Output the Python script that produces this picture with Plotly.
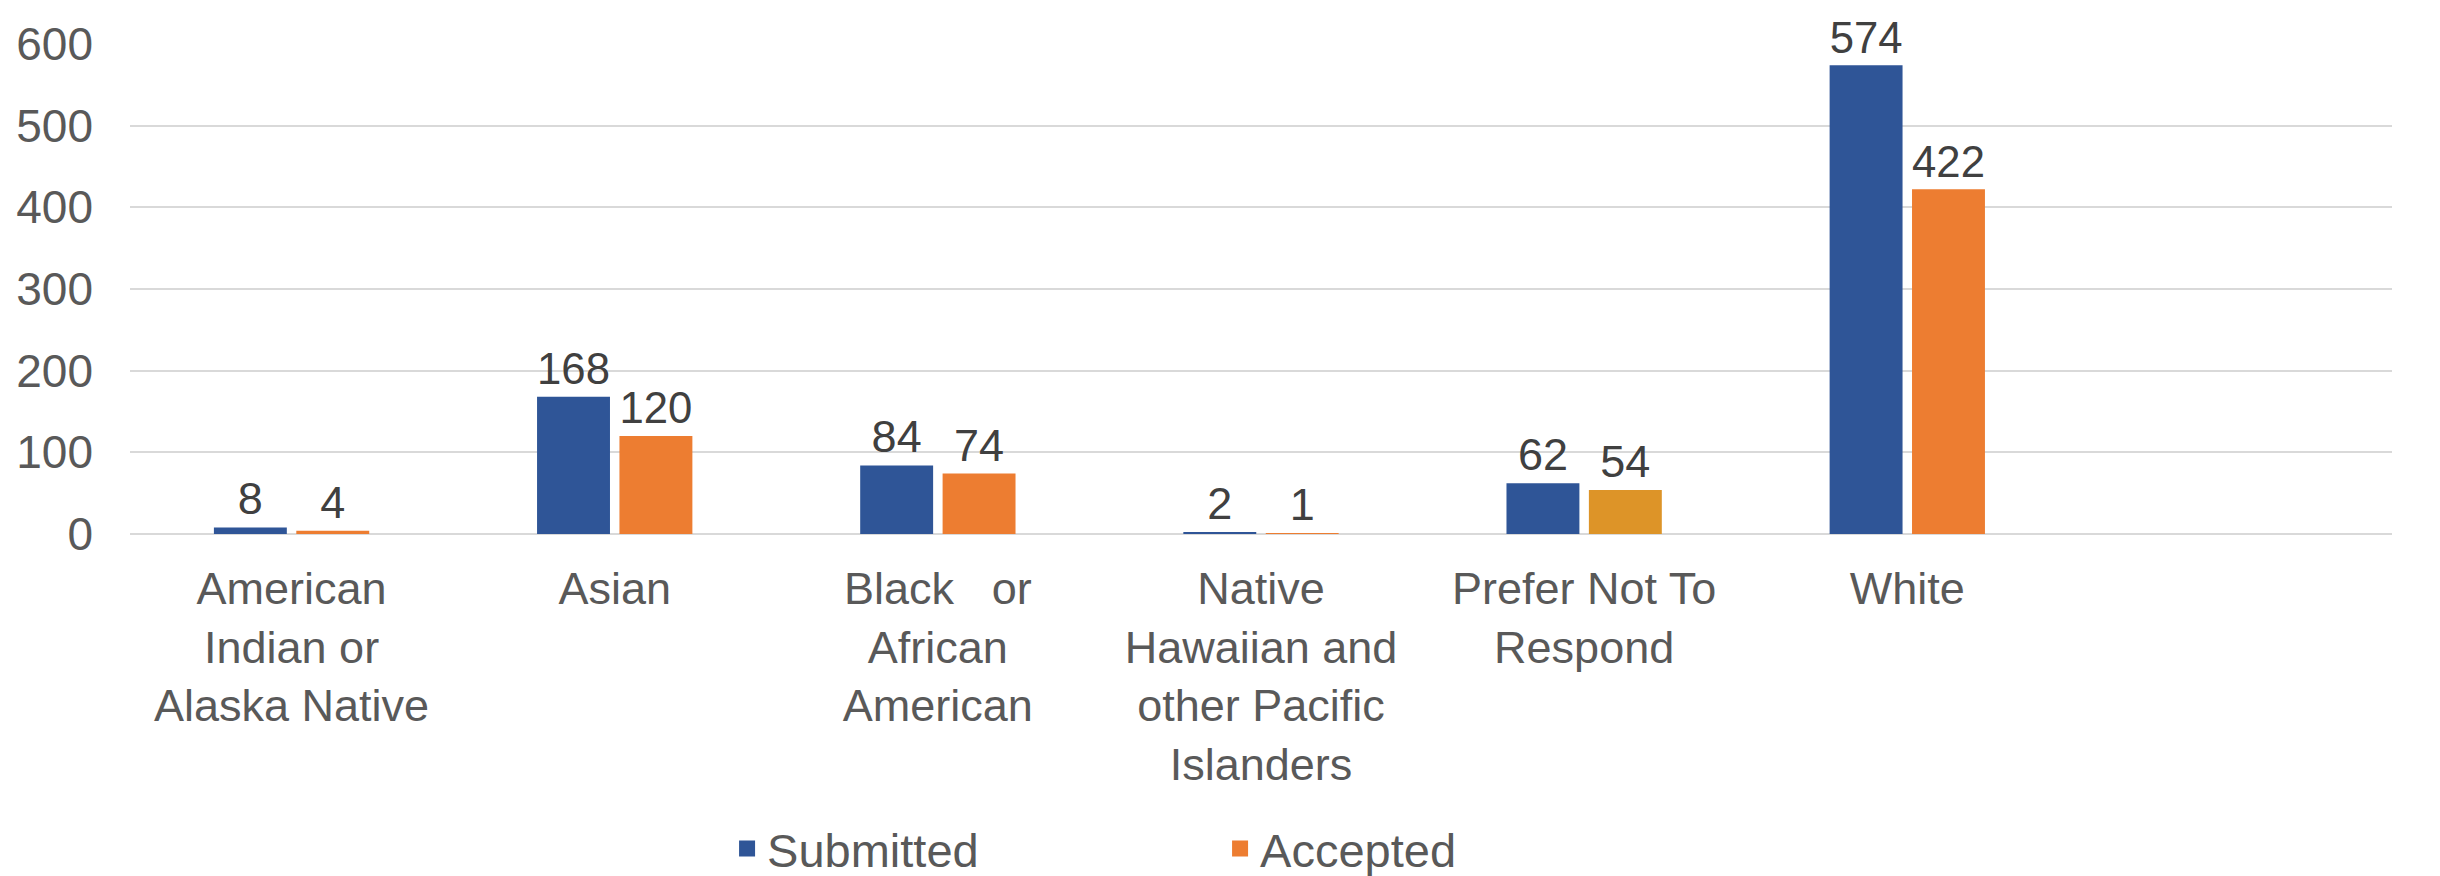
import plotly.graph_objects as go

categories = [
    "American<br>Indian or<br>Alaska Native",
    "Asian",
    "Black   or<br>African<br>American",
    "Native<br>Hawaiian and<br>other Pacific<br>Islanders",
    "Prefer Not To<br>Respond",
    "White",
]
submitted = [8, 168, 84, 2, 62, 574]
accepted = [4, 120, 74, 1, 54, 422]
y_ticks = [0, 100, 200, 300, 400, 500, 600]
series_names = ["Submitted", "Accepted"]

BLUE = "#2F5597"
ORANGE = "#ED7D31"
GOLD = "#DD9428"
FONT = "Liberation Sans, Arial, sans-serif"

acc_colors = [GOLD if c.startswith("Prefer") else ORANGE for c in categories]

fig = go.Figure()
fig.add_trace(go.Bar(
    name=series_names[0], x=categories, y=submitted, showlegend=False,
    marker=dict(color=BLUE, line=dict(width=0)),
    text=submitted, textposition="outside", cliponaxis=False,
    textfont=dict(family=FONT, size=45, color="#404040"),
))
fig.add_trace(go.Bar(
    name=series_names[1], x=categories, y=accepted, showlegend=False,
    marker=dict(color=acc_colors, line=dict(width=0)),
    text=accepted, textposition="outside", cliponaxis=False,
    textfont=dict(family=FONT, size=45, color="#404040"),
))
# legend entries with larger square swatches
for nm, col in zip(series_names, [BLUE, ORANGE]):
    fig.add_trace(go.Scatter(
        name=nm, x=[None], y=[None], mode="markers",
        marker=dict(symbol="square", size=16, color=col),
        showlegend=True, hoverinfo="skip",
    ))

fig.update_layout(
    width=2440, height=876,
    margin=dict(l=122, r=56, t=36, b=350, autoexpand=False),
    paper_bgcolor="white", plot_bgcolor="white",
    barmode="group", bargap=0.49, bargroupgap=0.115,
    font=dict(family=FONT, size=45, color="#595959"),
    showlegend=True,
    legend=dict(
        orientation="h", xref="container", yref="container",
        x=0.2947, xanchor="left", y=0.04, yanchor="middle",
        font=dict(family=FONT, size=47, color="#595959"),
        entrywidth=448, entrywidthmode="pixels",
        bgcolor="rgba(0,0,0,0)",
    ),
)
fig.update_xaxes(
    type="category", range=[-0.5, 6.5], automargin=False,
    showgrid=False, showline=False, zeroline=False,
    ticks="", tickfont=dict(family=FONT, size=45, color="#595959"),
    tickangle=0, ticklabelstandoff=24,
)
fig.update_yaxes(
    range=[0, 600], tickvals=y_ticks, automargin=False,
    showgrid=True, gridcolor="#D9D9D9", gridwidth=2,
    zeroline=True, zerolinecolor="#D9D9D9", zerolinewidth=2,
    showline=False, ticks="", ticklabelstandoff=36,
    tickfont=dict(family=FONT, size=46, color="#595959"),
)

fig.write_html("out.html")
